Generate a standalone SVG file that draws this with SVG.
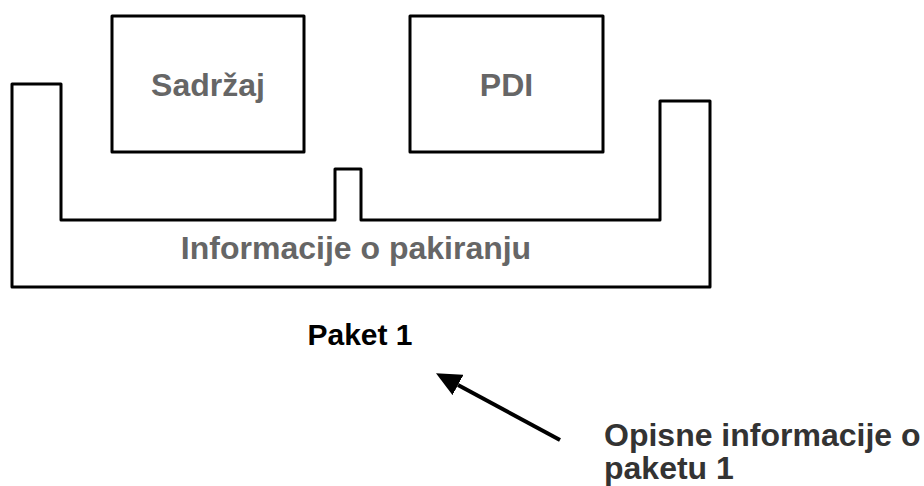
<svg xmlns="http://www.w3.org/2000/svg" width="924" height="486" viewBox="0 0 924 486">
<style>
.shape{fill:none;stroke:#000;stroke-width:3;stroke-linejoin:round}
.lbl{font-family:"Liberation Sans",Arial,sans-serif;font-weight:bold;font-size:32px;text-anchor:middle}
.gray{fill:#666666}
.dark{fill:#333333}
</style>
<defs>
<marker id="ah" markerWidth="25" markerHeight="23" refX="0" refY="11.5" orient="auto" markerUnits="userSpaceOnUse">
<path d="M0,0 L25,11.5 L0,23 Z" fill="#000"/>
</marker>
</defs>
<rect width="924" height="486" fill="#fff"/>
<g id="packaging">
<path class="shape" d="M12,84 H61 V220 H335 V169 H361 V220 H660 V101 H710 V287 H12 Z"/>
<text class="lbl gray" x="356" y="259">Informacije o pakiranju</text>
</g>
<g id="sadrzaj">
<rect class="shape" x="112" y="16" width="192" height="136"/>
<text class="lbl gray" x="208" y="96">Sadržaj</text>
</g>
<g id="pdi">
<rect class="shape" x="410" y="16" width="193" height="136"/>
<text class="lbl gray" x="506.5" y="96">PDI</text>
</g>
<g id="paket1">
<text class="lbl" fill="#000" style="font-size:30px" x="360" y="345">Paket 1</text>
</g>
<g id="opisne">
<text class="lbl dark" style="text-anchor:start" x="604" y="446">Opisne informacije o</text>
<text class="lbl dark" style="text-anchor:start" x="604" y="479">paketu 1</text>
</g>
<g id="connectors">
<line x1="560" y1="440" x2="458" y2="385" stroke="#000" stroke-width="4" marker-end="url(#ah)"/>
</g>
</svg>
